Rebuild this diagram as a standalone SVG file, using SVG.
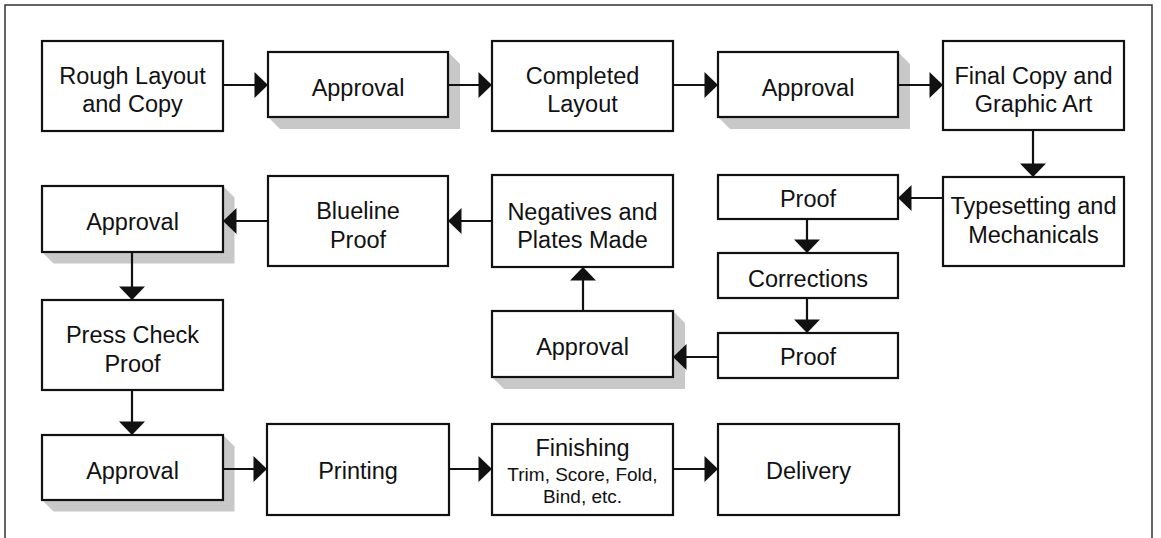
<svg xmlns="http://www.w3.org/2000/svg" width="1161" height="538" viewBox="0 0 1161 538">
<style>
.frame{fill:none;stroke:#333;stroke-width:1.5}
.box{fill:#fff;stroke:#111;stroke-width:2.2}
.sh{fill:#c8c8c8}
.t{font-family:"Liberation Sans",Arial,sans-serif;font-size:23.5px;fill:#111;text-anchor:middle}
.s{font-size:19px}
.c{fill:none;stroke:#111;stroke-width:2.2;marker-end:url(#ah)}
</style>
<defs>
<marker id="ah" markerUnits="userSpaceOnUse" markerWidth="14" markerHeight="26" viewBox="0 0 13 25" refX="13" refY="12.5" orient="auto">
<path d="M0,0 L13,12.5 L0,25 z" fill="#111"/>
</marker>
</defs>
<rect width="1161" height="538" fill="#fff"/>
<path class="frame" d="M5,538 V5 H1152 V538"/>

<g id="rough">
<rect class="box" x="42" y="41" width="181" height="90"/>
<text class="t" x="132.5" y="84">Rough Layout</text>
<text class="t" x="132.5" y="112">and Copy</text>
</g>
<g id="approval1">
<polygon class="sh" points="268,117 448,52 460,64 460,129 280,129"/>
<rect class="box" x="268" y="52" width="180" height="65"/>
<text class="t" x="358" y="95.5">Approval</text>
</g>
<g id="completed">
<rect class="box" x="492" y="41" width="181" height="90"/>
<text class="t" x="582.5" y="84">Completed</text>
<text class="t" x="582.5" y="112">Layout</text>
</g>
<g id="approval2">
<polygon class="sh" points="718,117 898,52 910,64 910,129 730,129"/>
<rect class="box" x="718" y="52" width="180" height="65"/>
<text class="t" x="808" y="95.5">Approval</text>
</g>
<g id="finalcopy">
<rect class="box" x="943" y="41" width="181" height="89"/>
<text class="t" x="1033.5" y="84">Final Copy and</text>
<text class="t" x="1033.5" y="112">Graphic Art</text>
</g>
<g id="typesetting">
<rect class="box" x="943" y="177" width="181" height="89"/>
<text class="t" x="1033.5" y="214">Typesetting and</text>
<text class="t" x="1033.5" y="243">Mechanicals</text>
</g>
<g id="proof1">
<rect class="box" x="718" y="175" width="180" height="44"/>
<text class="t" x="808" y="206.5">Proof</text>
</g>
<g id="corrections">
<rect class="box" x="718" y="253" width="180" height="45"/>
<text class="t" x="808" y="287">Corrections</text>
</g>
<g id="proof2">
<rect class="box" x="718" y="333" width="180" height="45"/>
<text class="t" x="808" y="365">Proof</text>
</g>
<g id="approval3">
<polygon class="sh" points="492,377 673,311 685,323 685,389 504,389"/>
<rect class="box" x="492" y="311" width="181" height="66"/>
<text class="t" x="582.5" y="355">Approval</text>
</g>
<g id="negatives">
<rect class="box" x="492" y="175" width="181" height="92"/>
<text class="t" x="582.5" y="220">Negatives and</text>
<text class="t" x="582.5" y="248">Plates Made</text>
</g>
<g id="blueline">
<rect class="box" x="268" y="176" width="180" height="90"/>
<text class="t" x="358" y="219">Blueline</text>
<text class="t" x="358" y="248">Proof</text>
</g>
<g id="approval4">
<polygon class="sh" points="42,252 223,186 234.5,197.5 234.5,263.5 53.5,263.5"/>
<rect class="box" x="42" y="186" width="181" height="66"/>
<text class="t" x="132.5" y="230">Approval</text>
</g>
<g id="presscheck">
<rect class="box" x="42" y="300" width="181" height="90"/>
<text class="t" x="132.5" y="343">Press Check</text>
<text class="t" x="132.5" y="371.5">Proof</text>
</g>
<g id="approval5">
<polygon class="sh" points="42,500 223,435 234.5,446.5 234.5,511.5 53.5,511.5"/>
<rect class="box" x="42" y="435" width="181" height="65"/>
<text class="t" x="132.5" y="479">Approval</text>
</g>
<g id="printing">
<rect class="box" x="267" y="424" width="182" height="91"/>
<text class="t" x="358" y="479">Printing</text>
</g>
<g id="finishing">
<rect class="box" x="492" y="424" width="181" height="91"/>
<text class="t" x="582.5" y="456">Finishing</text>
<text class="t s" x="582.5" y="480.5">Trim, Score, Fold,</text>
<text class="t s" x="582.5" y="502.5">Bind, etc.</text>
</g>
<g id="delivery">
<rect class="box" x="718" y="424" width="181" height="91"/>
<text class="t" x="808.5" y="479">Delivery</text>
</g>

<g id="connectors">
<line class="c" x1="223" y1="85" x2="268" y2="85"/>
<line class="c" x1="448" y1="85" x2="492" y2="85"/>
<line class="c" x1="673" y1="85" x2="718" y2="85"/>
<line class="c" x1="898" y1="85" x2="943" y2="85"/>
<line class="c" x1="1033" y1="130" x2="1033" y2="177"/>
<line class="c" x1="943" y1="198" x2="898" y2="198"/>
<line class="c" x1="807" y1="219" x2="807" y2="253"/>
<line class="c" x1="807" y1="298" x2="807" y2="333"/>
<line class="c" x1="718" y1="357" x2="673" y2="357"/>
<line class="c" x1="583" y1="311" x2="583" y2="267"/>
<line class="c" x1="492" y1="221" x2="448" y2="221"/>
<line class="c" x1="268" y1="221" x2="223" y2="221"/>
<line class="c" x1="132" y1="252" x2="132" y2="300"/>
<line class="c" x1="132" y1="390" x2="132" y2="435"/>
<line class="c" x1="223" y1="469" x2="267" y2="469"/>
<line class="c" x1="449" y1="469" x2="492" y2="469"/>
<line class="c" x1="673" y1="469" x2="718" y2="469"/>
</g>
</svg>
